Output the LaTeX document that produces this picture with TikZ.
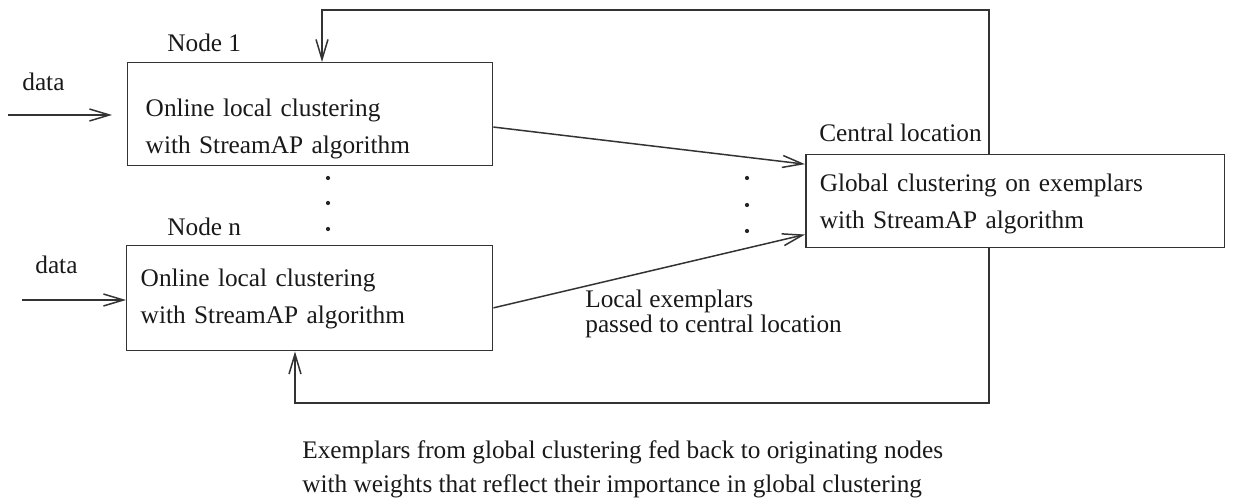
\documentclass[tikz,border=0pt]{standalone}
\usepackage{fontspec}
\setmainfont{Liberation Serif}
\usetikzlibrary{arrows.meta,positioning,calc}
\tikzset{
myBox/.style={
	rectangle, draw=black!80, line width=0.85pt, fill=white,
	align=left, inner ysep=0pt, inner xsep=0.28cm, text=black!90,
	font=\fontsize{14.4}{21}\selectfont, anchor=north west
}
, myLabel/.style={
	inner sep=0pt, anchor=west, text=black!90,
	font=\fontsize{14.4}{17}\selectfont
}
% link
, myLink/.style={-{Straight Barb[length=4mm,width=2.4mm]},draw=black!80,line width=0.85pt}
}

\begin{document}
\begin{tikzpicture}[x=0.02cm, y=-0.02cm]
	\useasboundingbox (0,0) rectangle (1243,503);
	% nodes
	\node[myBox, inner xsep=0.36cm, text width=6.58cm, text height=1.08cm, text depth=0.98cm] (NodeA) at (127,62) {Online local clustering\\with StreamAP algorithm};
	\node[myBox, text width=6.76cm, text height=0.82cm, text depth=1.28cm] (NodeN) at (126,245) {Online local clustering\\with StreamAP algorithm};
	\node[myBox, text width=7.82cm, text height=0.74cm, text depth=1.12cm] (Central) at (805,154) {Global clustering on exemplars\\with StreamAP algorithm};
	% labels
	\node[myLabel] (LabelA) at (167,43) {Node 1};
	\node[myLabel] (LabelN) at (167,227) {Node n};
	\node[myLabel] (LabelC) at (819,133) {Central location};
	\node[myLabel] (DataA) at (22,82) {data};
	\node[myLabel] (DataN) at (35,265) {data};
	\node[myLabel, align=left, font=\fontsize{14.4}{14.4}\selectfont] (LocalEx) at (585,314) {Local exemplars\\passed to central location};
	\node[myLabel, align=left, font=\fontsize{14.4}{19.3}\selectfont] (FeedNote) at (302,469) {Exemplars from global clustering fed back to originating nodes\\with weights that reflect their importance in global clustering};
	% dots
	\foreach \y in {178,203,229} \fill[black!85] (328,\y) circle (1.2pt);
	\foreach \y in {178,205,231} \fill[black!85] (747,\y) circle (1.2pt);
	% links
	\coordinate (InA) at (8,115);
	\coordinate (InN) at (22,300);
	\draw[myLink, shorten >=0.3cm] (InA) -- (InA -| NodeA.west);
	\draw[myLink] (InN) -- (InN -| NodeN.west);
	\draw[myLink] (NodeA.-4.5) -- (Central.170.6);
	\draw[myLink] (NodeN.-3.9) -- (Central.-171.2);
	% feedback
	\coordinate (FeedX) at (989,0);
	\coordinate (TopTurn) at (322,10);
	\coordinate (BotTurn) at (295,403);
	\draw[myLink] (Central.north -| FeedX) |- (TopTurn) -- (TopTurn |- NodeA.north);
	\draw[myLink] (Central.south -| FeedX) |- (BotTurn) -- (BotTurn |- NodeN.south);
\end{tikzpicture}
\end{document}
